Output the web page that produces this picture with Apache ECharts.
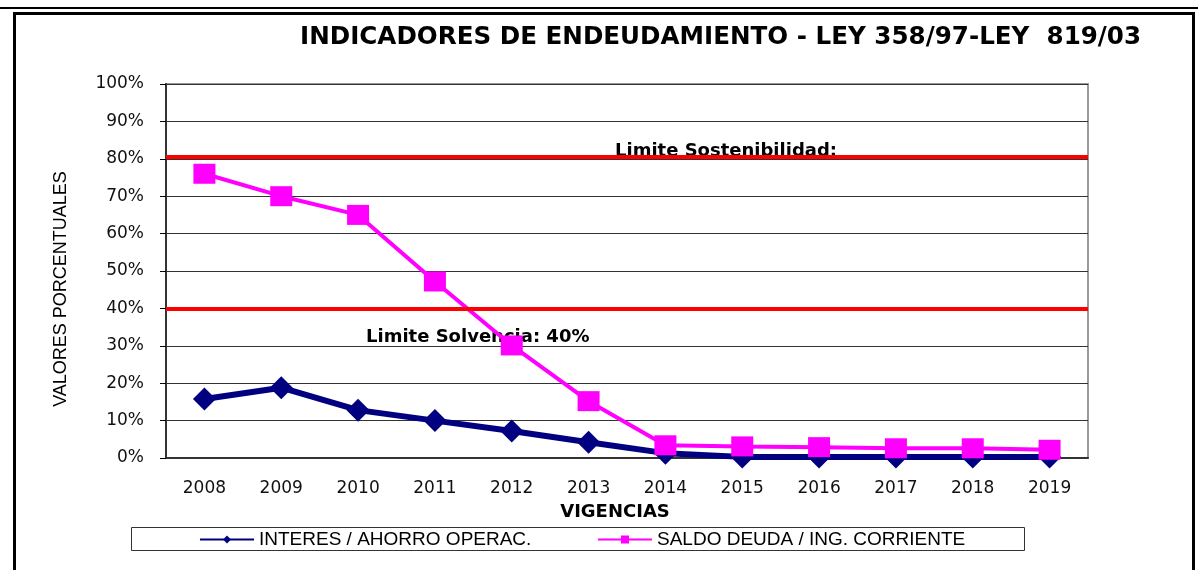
<!DOCTYPE html>
<html lang="es">
<head>
    <meta charset="utf-8">
    <title>Indicadores de endeudamiento</title>
    <script src="https://cdn.jsdelivr.net/npm/echarts@6/dist/echarts.min.js"></script>
    <style>
        html, body { margin: 0; padding: 0; background: #fff; }
        #chart { width: 1198px; height: 570px; }
    </style>
</head>
<body>
<div id="chart"></div>
<script type="text/javascript">
    // datos (en %)
    var vigencias = ['2008', '2009', '2010', '2011', '2012', '2013', '2014', '2015', '2016', '2017', '2018', '2019'];
    var interesAhorro = [15.8, 18.8, 12.8, 10.0, 7.2, 4.2, 1.3, 0.3, 0.3, 0.3, 0.3, 0.3];
    var saldoDeuda = [76.0, 70.0, 65.0, 47.2, 30.1, 15.2, 3.4, 3.1, 2.9, 2.6, 2.6, 2.2];
    var limites = [80.5, 40];
    var nombres = ['INTERES / AHORRO OPERAC.', 'SALDO DEUDA / ING. CORRIENTE'];

    var fuente = '"Liberation Sans", Arial, sans-serif';
    var ancha = '"DejaVu Sans", sans-serif';
    var myChart = echarts.init(document.getElementById('chart'));

    myChart.setOption({
        animation: false,
        backgroundColor: '#fff',
        title: {
            text: 'INDICADORES DE ENDEUDAMIENTO - LEY 358/97-LEY  819/03',
            left: 300,
            top: 25,
            padding: 0,
            textStyle: {fontFamily: ancha, fontSize: 24.6, fontWeight: 'bold', color: '#000'}
        },
        grid: {
            left: 166, right: 110, top: 84, bottom: 112,
            show: true, borderColor: '#999', borderWidth: 2, backgroundColor: 'transparent'
        },
        legend: [{
            data: [nombres[0]],
            left: 199, top: 530, padding: 0,
            itemWidth: 54, itemHeight: 10, itemGap: 4,
            lineStyle: {width: 2},
            textStyle: {fontFamily: fuente, fontSize: 19, color: '#000'}
        }, {
            data: [nombres[1]],
            left: 597, top: 530, padding: 0,
            itemWidth: 54, itemHeight: 10, itemGap: 4,
            lineStyle: {width: 2},
            textStyle: {fontFamily: fuente, fontSize: 19, color: '#000'}
        }],
        xAxis: {
            type: 'category',
            data: vigencias,
            boundaryGap: true,
            name: 'VIGENCIAS',
            nameLocation: 'middle',
            nameGap: 45,
            nameTextStyle: {fontFamily: ancha, fontSize: 18, fontWeight: 'bold', color: '#000', padding: [0, 24, 0, 0]},
            axisLine: {lineStyle: {color: '#333', width: 2}},
            axisTick: {length: 6, lineStyle: {color: '#000'}},
            axisLabel: {margin: 22, fontFamily: ancha, fontSize: 17, color: '#111'}
        },
        yAxis: {
            type: 'value',
            min: 0, max: 100, interval: 10,
            name: 'VALORES PORCENTUALES',
            nameLocation: 'middle',
            nameGap: 96,
            nameTextStyle: {fontFamily: fuente, fontSize: 18, color: '#000', padding: [0, 36, 0, 0]},
            axisLine: {show: true, lineStyle: {color: '#333', width: 2}},
            axisTick: {show: true, length: 6, lineStyle: {color: '#000'}},
            axisLabel: {margin: 22, formatter: '{value}%', fontFamily: ancha, fontSize: 17, color: '#111'},
            splitLine: {lineStyle: {color: '#333', width: 1}}
        },
        graphic: [
            {type: 'rect', shape: {x: 0, y: 7, width: 1198, height: 2}, style: {fill: '#000'}},
            {type: 'rect', shape: {x: 14.5, y: 13.5, width: 1179, height: 600}, style: {fill: 'none', stroke: '#000', lineWidth: 3}},
            {type: 'rect', shape: {x: 131.5, y: 527.5, width: 893, height: 23}, style: {fill: 'none', stroke: '#333', lineWidth: 1}},
            {type: 'text', left: 615, top: 142, style: {text: 'Limite Sostenibilidad:', fontFamily: ancha, fontSize: 18, fontWeight: 'bold', fill: '#000'}},
            {type: 'text', left: 366, top: 328, style: {text: 'Limite Solvencia: 40%', fontFamily: ancha, fontSize: 18, fontWeight: 'bold', fill: '#000'}}
        ],
        series: [{
            name: nombres[0],
            type: 'line',
            data: interesAhorro,
            symbol: 'diamond',
            symbolSize: 23,
            lineStyle: {color: '#000080', width: 6},
            itemStyle: {color: '#000080'}
        }, {
            name: nombres[1],
            type: 'line',
            data: saldoDeuda,
            symbol: 'rect',
            symbolSize: [22, 20],
            lineStyle: {color: '#ff00ff', width: 4},
            itemStyle: {color: '#ff00ff'},
            markLine: {
                silent: true,
                symbol: 'none',
                label: {show: false},
                lineStyle: {color: '#ff0000', width: 4, type: 'solid'},
                data: limites.map(function (v) { return {yAxis: v}; })
            }
        }]
    });
</script>
</body>
</html>
